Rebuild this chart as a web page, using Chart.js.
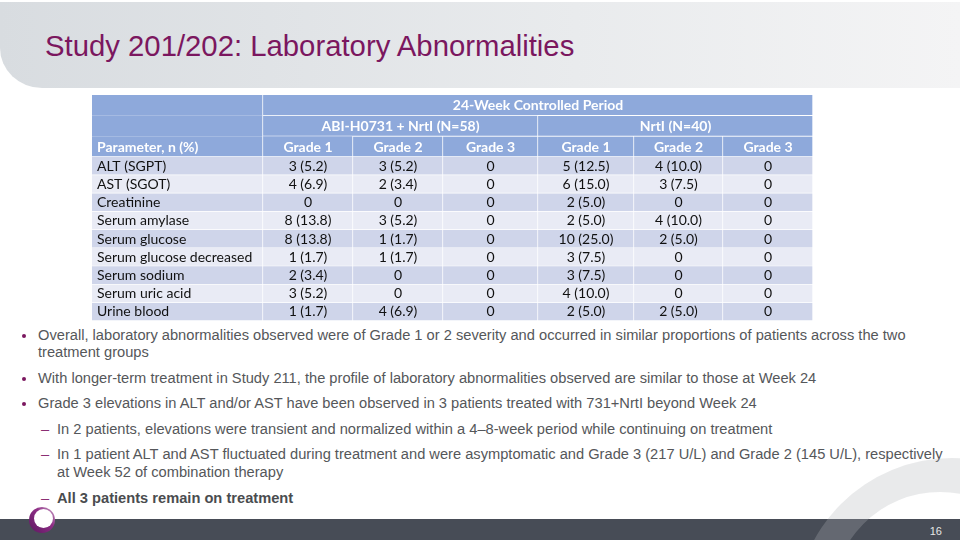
<!DOCTYPE html>
<html>
<head>
<meta charset="utf-8">
<script src="https://cdn.jsdelivr.net/npm/chart.js@4.4.1/dist/chart.umd.min.js"></script>
<style>
html,body{margin:0;padding:0;width:960px;height:540px;overflow:hidden;background:#fff;}
#stage{position:relative;width:960px;height:540px;overflow:hidden;}
.abs{position:absolute;}
#title{left:45px;top:31px;font-family:"Liberation Sans",Arial,sans-serif;font-size:29.3px;line-height:29px;color:#7B175F;white-space:nowrap;}
.line{position:absolute;font-family:"Liberation Sans",Arial,sans-serif;font-size:14.67px;line-height:17px;color:#55575a;white-space:nowrap;}
.line.b{font-weight:bold;color:#4a4c4f;}
.dot{position:absolute;width:4px;height:4px;border-radius:50%;background:#7B175F;}
.dash{position:absolute;font-family:"Liberation Sans",Arial,sans-serif;font-size:14.67px;line-height:17px;color:#8B2F73;}
#pageno{left:920px;top:525px;width:22px;text-align:right;font-family:"Liberation Sans",Arial,sans-serif;font-size:11px;line-height:13px;color:#e6e6e6;}
</style>
</head>
<body>
<div id="stage">
  <svg class="abs" style="left:0;top:0" width="960" height="540">
    <defs>
      <linearGradient id="band" x1="0" y1="0" x2="1" y2="0">
        <stop offset="0" stop-color="#D8DCE0"/>
        <stop offset="0.6" stop-color="#E9EBED"/>
        <stop offset="1" stop-color="#F4F4F5"/>
      </linearGradient>
    </defs>
    <path d="M0 2 L960 2 L960 88 L42 88 A42 40 0 0 1 0 48 Z" fill="url(#band)"/>
  </svg>
  <div id="title" class="abs">Study 201/202: Laboratory Abnormalities</div>
  <div class="abs" style="left:92px;top:95px;width:721px;height:62px;"><canvas id="head" width="721" height="62"></canvas></div>
  <div class="abs" style="left:92px;top:157px;width:721px;height:164px;"><canvas id="body" width="721" height="164"></canvas></div>
  <div id="notes"></div>
  <svg class="abs" style="left:0;top:0" width="960" height="540">
    <defs>
      <linearGradient id="logo" x1="0" y1="1" x2="1" y2="0">
        <stop offset="0" stop-color="#5C165F"/>
        <stop offset="0.6" stop-color="#8E2E86"/>
        <stop offset="1" stop-color="#C9A3C6"/>
      </linearGradient>
    </defs>
    <rect x="0" y="519" width="960" height="21" fill="#474C56"/>
    <path fill-rule="evenodd" fill="rgba(175,178,182,0.28)"
      d="M795 615 A157 157 0 1 0 1109 615 A157 157 0 1 0 795 615 Z M832 600 A108 108 0 1 0 1048 600 A108 108 0 1 0 832 600 Z"/>
    <circle cx="42" cy="520" r="13" fill="url(#logo)"/>
    <circle cx="43.5" cy="518.5" r="9.5" fill="#fff"/>
  </svg>
  <div id="pageno" class="abs">16</div>
</div>
<script>
// ---------------- data ----------------
const periodLabel = '24-Week Controlled Period';
const groupLabels = ['ABI-H0731 + NrtI (N=58)', 'NrtI (N=40)'];
const gradeLabels = ['Grade 1', 'Grade 2', 'Grade 3'];
const paramHeader = 'Parameter, n (%)';
const parameters = ['ALT (SGPT)', 'AST (SGOT)', 'Creatinine', 'Serum amylase', 'Serum glucose',
  'Serum glucose decreased', 'Serum sodium', 'Serum uric acid', 'Urine blood'];
const abiG1N   = [3, 4, 0, 8, 8, 1, 2, 3, 1];
const abiG1Pct = [5.2, 6.9, null, 13.8, 13.8, 1.7, 3.4, 5.2, 1.7];
const abiG2N   = [3, 2, 0, 3, 1, 1, 0, 0, 4];
const abiG2Pct = [5.2, 3.4, null, 5.2, 1.7, 1.7, null, null, 6.9];
const abiG3N   = [0, 0, 0, 0, 0, 0, 0, 0, 0];
const abiG3Pct = [null, null, null, null, null, null, null, null, null];
const nrtiG1N   = [5, 6, 2, 2, 10, 3, 3, 4, 2];
const nrtiG1Pct = [12.5, 15.0, 5.0, 5.0, 25.0, 7.5, 7.5, 10.0, 5.0];
const nrtiG2N   = [4, 3, 0, 4, 2, 0, 0, 0, 2];
const nrtiG2Pct = [10.0, 7.5, null, 10.0, 5.0, null, null, null, 5.0];
const nrtiG3N   = [0, 0, 0, 0, 0, 0, 0, 0, 0];
const nrtiG3Pct = [null, null, null, null, null, null, null, null, null];

const notes = [
  {level: 1, lines: ['Overall, laboratory abnormalities observed were of Grade 1 or 2 severity and occurred in similar proportions of patients across the two', 'treatment groups']},
  {level: 1, lines: ['With longer-term treatment in Study 211, the profile of laboratory abnormalities observed are similar to those at Week 24']},
  {level: 1, lines: ['Grade 3 elevations in ALT and/or AST have been observed in 3 patients treated with 731+NrtI beyond Week 24']},
  {level: 2, lines: ['In 2 patients, elevations were transient and normalized within a 4\u20138-week period while continuing on treatment']},
  {level: 2, lines: ['In 1 patient ALT and AST fluctuated during treatment and were asymptomatic and Grade 3 (217 U/L) and Grade 2 (145 U/L), respectively', 'at Week 52 of combination therapy']},
  {level: 2, bold: true, lines: ['All 3 patients remain on treatment']}
];

// ---------------- layout (not data) ----------------
const COL_W = [171, 90, 90, 95, 96, 89, 90];
const TABLE_W = COL_W.reduce((a, b) => a + b, 0);
const HEAD_SPANS = [[171, 550], [171, 275, 275], COL_W];
const NOTE_TOPS = [[326.5, 343.5], [369.5], [394.5], [420.5], [445.5, 463.5], [489.5]];

const seriesN = [abiG1N, abiG2N, abiG3N, nrtiG1N, nrtiG2N, nrtiG3N];
const seriesPct = [abiG1Pct, abiG2Pct, abiG3Pct, nrtiG1Pct, nrtiG2Pct, nrtiG3Pct];
function fmt(n, p) { return n === 0 ? '0' : n + ' (' + p.toFixed(1) + ')'; }

const headText = [['', periodLabel], ['', groupLabels[0], groupLabels[1]],
  [paramHeader].concat(gradeLabels, gradeLabels)];
function bodyText(c, i) { return c === 0 ? parameters[i] : fmt(seriesN[c - 1][i], seriesPct[c - 1][i]); }
function headCellText(c, i) { return headText[i][c] || ''; }

function textPlugin(getText, font, color, dy) {
  return {
    id: 'cellText',
    afterDatasetsDraw(chart) {
      const ctx = chart.ctx;
      ctx.save();
      ctx.font = font; ctx.fillStyle = color; ctx.textBaseline = 'middle';
      chart.data.datasets.forEach((ds, c) => {
        chart.getDatasetMeta(c).data.forEach((el, i) => {
          const t = getText(c, i);
          if (!t) return;
          const p = el.getProps(['x', 'y', 'base'], true);
          const l = Math.min(p.x, p.base), r = Math.max(p.x, p.base);
          if (c === 0) { ctx.textAlign = 'left'; ctx.fillText(t, l + 5, p.y + dy); }
          else { ctx.textAlign = 'center'; ctx.fillText(t, (l + r) / 2, p.y + dy); }
        });
      });
      ctx.restore();
    }
  };
}

function baseOptions() {
  return {
    indexAxis: 'y', responsive: false, animation: false, events: [],
    layout: {padding: 0},
    plugins: {legend: {display: false}, tooltip: {enabled: false}, title: {display: false}},
    scales: {
      x: {stacked: true, display: false, min: 0, max: TABLE_W},
      y: {stacked: true, display: false}
    }
  };
}

// header chart
new Chart(document.getElementById('head'), {
  type: 'bar',
  data: {
    labels: ['period', 'group', 'grade'],
    datasets: COL_W.map((w, c) => ({
      data: HEAD_SPANS.map(r => r[c] || 0),
      backgroundColor: '#8EA9DB',
      borderColor: '#FFFFFF',
      borderSkipped: false,
      borderWidth: (ctx) => (ctx.datasetIndex === 0
        ? {top: 0, left: 0, right: 1, bottom: ctx.dataIndex === 2 ? 1 : 0}
        : {top: 0, left: 0, right: 1, bottom: 1}),
      barPercentage: 1, categoryPercentage: 1
    }))
  },
  options: baseOptions(),
  plugins: [textPlugin(headCellText, 'bold 14px Lato, "Open Sans", sans-serif', '#FFFFFF', 0.5)]
});

// body chart
new Chart(document.getElementById('body'), {
  type: 'bar',
  data: {
    labels: parameters,
    datasets: COL_W.map((w, c) => ({
      data: parameters.map(() => w),
      backgroundColor: (ctx) => (ctx.dataIndex % 2 === 0 ? '#CFD5EA' : '#E9EBF5'),
      borderColor: '#FFFFFF',
      borderSkipped: false,
      borderWidth: {top: 0, left: 0, right: 1, bottom: 1},
      barPercentage: 1, categoryPercentage: 1
    }))
  },
  options: baseOptions(),
  plugins: [textPlugin(bodyText, '14px Lato, "Open Sans", sans-serif', '#111111', 0)]
});

// notes
const notesEl = document.getElementById('notes');
notes.forEach((n, k) => {
  n.lines.forEach((txt, j) => {
    const top = NOTE_TOPS[k][j];
    const d = document.createElement('div');
    d.className = 'line' + (n.bold ? ' b' : '');
    d.style.left = (n.level === 1 ? 38 : 57) + 'px';
    d.style.top = top + 'px';
    d.textContent = txt;
    notesEl.appendChild(d);
    if (j === 0) {
      if (n.level === 1) {
        const b = document.createElement('div');
        b.className = 'dot';
        b.style.left = '22px'; b.style.top = (top + 7) + 'px';
        notesEl.appendChild(b);
      } else {
        const b = document.createElement('div');
        b.className = 'dash';
        b.style.left = '41px'; b.style.top = top + 'px';
        b.textContent = '\u2013';
        notesEl.appendChild(b);
      }
    }
  });
});
</script>
</body>
</html>
